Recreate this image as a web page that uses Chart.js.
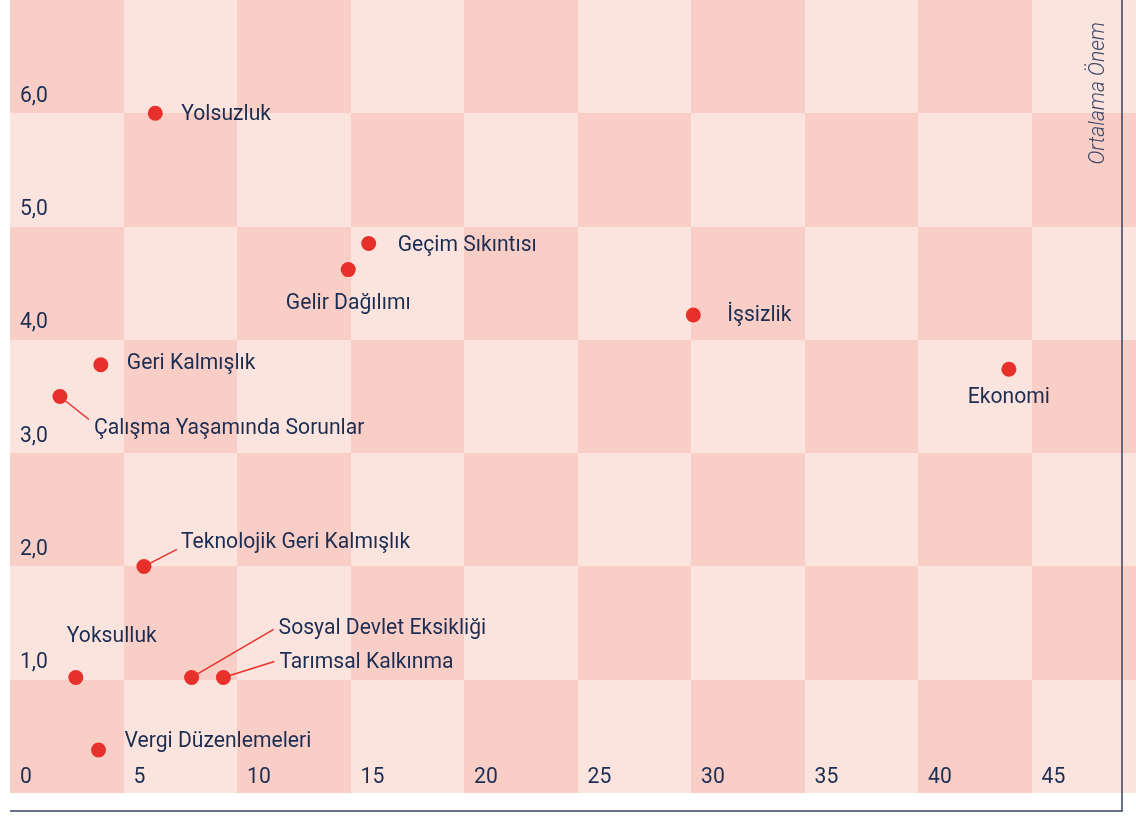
<!DOCTYPE html>
<html>
<head>
<meta charset="utf-8">
<script src="https://cdn.jsdelivr.net/npm/chart.js@4/dist/chart.umd.min.js"></script>
<style>
  html, body { margin: 0; padding: 0; background: #fff; }
  #wrap { width: 1136px; height: 816px; }
</style>
</head>
<body>
<div id="wrap"><canvas id="myChart" width="1136" height="816"></canvas></div>
<script>
// veriler
var categories = [
  "Yolsuzluk", "Geçim Sıkıntısı", "Gelir Dağılımı", "İşsizlik",
  "Geri Kalmışlık", "Ekonomi", "Çalışma Yaşamında Sorunlar",
  "Teknolojik Geri Kalmışlık", "Yoksulluk", "Sosyal Devlet Eksikliği",
  "Tarımsal Kalkınma", "Vergi Düzenlemeleri"
];
var xValues = [6.4, 15.8, 14.9, 30.1, 4.0, 44.0, 2.2, 5.9, 2.9, 8.0, 9.4, 3.9];
var yValues = [6.0, 4.85, 4.62, 4.22, 3.78, 3.74, 3.5, 2.0, 1.02, 1.02, 1.02, 0.38];

var xTickValues = [0, 5, 10, 15, 20, 25, 30, 35, 40, 45];
var xTickLabels = ["0", "5", "10", "15", "20", "25", "30", "35", "40", "45"];
var yTickValues = [1, 2, 3, 4, 5, 6];
var yTickLabels = ["1,0", "2,0", "3,0", "4,0", "5,0", "6,0"];
var axisTitle = "Ortalama Önem";

// etiket yerleşimi (px): dx, dy, hizalama, çizgi ucu
var labelPlacement = [
  { dx: 26, dy: 1, align: "left" },
  { dx: 29, dy: 2, align: "left" },
  { dx: 0, dy: 34, align: "center" },
  { dx: 34, dy: 1, align: "left" },
  { dx: 26, dy: -1, align: "left" },
  { dx: 0, dy: 28, align: "center" },
  { dx: 34, dy: 32, align: "left", lx: 29, ly: 23 },
  { dx: 37, dy: -24, align: "left", lx: 33, ly: -17 },
  { dx: -9, dy: -41, align: "left" },
  { dx: 87, dy: -49, align: "left", lx: 82, ly: -48 },
  { dx: 56, dy: -15, align: "left", lx: 51, ly: -16 },
  { dx: 26, dy: -8, align: "left" }
];

var DARK = "#f9cec6";
var LIGHT = "#fce4de";
var RED = "#e8302a";
var NAVY = "#1c2d52";
var FONT = "22px Roboto, sans-serif";
var SX = 0.96;

function condensedText(ctx, text, x, y, align) {
  // dar yazı tipi taklidi
  var w = ctx.measureText(text).width * SX;
  var left = x;
  if (align === "center") left = x - w / 2;
  if (align === "right") left = x - w;
  ctx.save();
  ctx.translate(left, y);
  ctx.scale(SX, 1);
  ctx.textAlign = "left";
  ctx.fillText(text, 0, 0);
  ctx.restore();
}

var checkerPlugin = {
  id: "checker",
  beforeDatasetsDraw: function(chart) {
    var ctx = chart.ctx;
    var area = chart.chartArea;
    var xs = chart.scales.x, ys = chart.scales.y;
    ctx.save();
    ctx.beginPath();
    ctx.rect(area.left, area.top, area.right - area.left, area.bottom - area.top);
    ctx.clip();
    for (var i = 0; i * 5 < xs.max; i++) {
      for (var j = 0; j < ys.max; j++) {
        var x0 = xs.getPixelForValue(i * 5), x1 = xs.getPixelForValue(i * 5 + 5);
        var y0 = ys.getPixelForValue(j + 1), y1 = ys.getPixelForValue(j);
        var row = Math.round(ys.max) - 1 - j;
        ctx.fillStyle = (i + row) % 2 === 0 ? DARK : LIGHT;
        ctx.fillRect(Math.round(x0), Math.round(y0), Math.round(x1) - Math.round(x0), Math.round(y1) - Math.round(y0));
      }
    }
    ctx.restore();

    // eksen etiketleri
    ctx.save();
    ctx.font = FONT;
    ctx.fillStyle = NAVY;
    ctx.textBaseline = "middle";
    xTickValues.forEach(function(v, k) {
      condensedText(ctx, xTickLabels[k], xs.getPixelForValue(v) + 10, area.bottom - 16, "left");
    });
    yTickValues.forEach(function(v, k) {
      condensedText(ctx, yTickLabels[k], area.left + 10, ys.getPixelForValue(v) - 17, "left");
    });
    ctx.restore();

    // çerçeve
    ctx.save();
    ctx.strokeStyle = "#33415f";
    ctx.lineWidth = 1.5;
    ctx.beginPath();
    ctx.moveTo(area.left, 811);
    ctx.lineTo(1122, 811);
    ctx.lineTo(1122, 0);
    ctx.stroke();
    ctx.restore();

    // eksen başlığı
    ctx.save();
    ctx.translate(1098, 22);
    ctx.rotate(-Math.PI / 2);
    ctx.font = "italic 300 22px Roboto, sans-serif";
    ctx.fillStyle = "#3c4868";
    ctx.textBaseline = "middle";
    var tw = ctx.measureText(axisTitle).width;
    ctx.scale(SX, 1);
    ctx.fillText(axisTitle, -tw, 0);
    ctx.restore();
  },
  afterDatasetsDraw: function(chart) {
    var ctx = chart.ctx;
    var meta = chart.getDatasetMeta(0);
    ctx.save();
    ctx.font = FONT;
    ctx.fillStyle = NAVY;
    ctx.textBaseline = "middle";
    meta.data.forEach(function(pt, k) {
      var p = labelPlacement[k];
      if (p.lx !== undefined) {
        ctx.strokeStyle = RED;
        ctx.lineWidth = 1.5;
        ctx.beginPath();
        ctx.moveTo(pt.x, pt.y);
        ctx.lineTo(pt.x + p.lx, pt.y + p.ly);
        ctx.stroke();
      }
      condensedText(ctx, categories[k], pt.x + p.dx, pt.y + p.dy, p.align);
    });
    ctx.restore();
  }
};

var ctx = document.getElementById("myChart").getContext("2d");
var chart = new Chart(ctx, {
  type: "scatter",
  data: {
    datasets: [{
      data: xValues.map(function(x, k) { return { x: x, y: yValues[k] }; }),
      pointRadius: 7.5,
      pointHoverRadius: 7.5,
      backgroundColor: RED,
      borderWidth: 0,
      clip: false
    }]
  },
  options: {
    responsive: false,
    animation: false,
    layout: { autoPadding: false, padding: { left: 10, right: 0, top: 0, bottom: 23 } },
    plugins: { legend: { display: false }, tooltip: { enabled: false } },
    scales: {
      x: { type: "linear", min: 0, max: 49.6, display: false },
      y: { type: "linear", min: 0, max: 7, display: false }
    }
  },
  plugins: [checkerPlugin]
});
</script>
</body>
</html>
